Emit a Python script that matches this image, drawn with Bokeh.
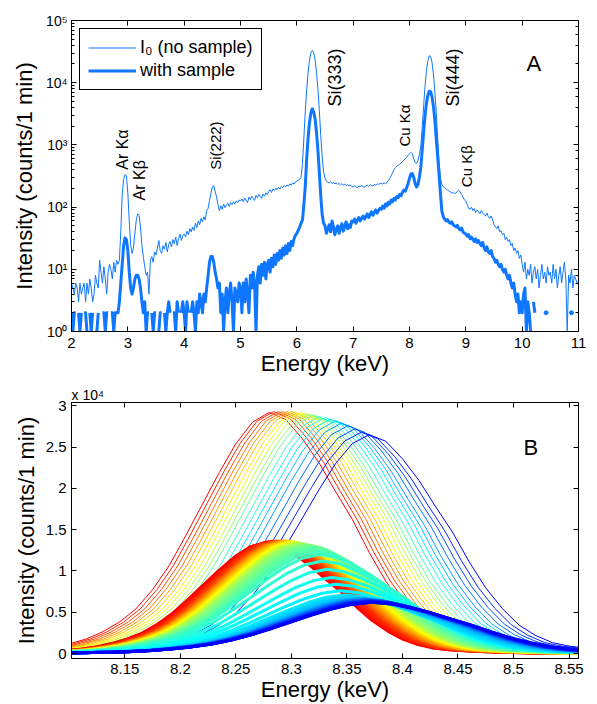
import math
import numpy as np
from bokeh.plotting import figure
from bokeh.models import (LinearAxis, LogAxis, FixedTicker, CustomJSTickFormatter,
                          Legend, LegendItem, ColumnDataSource, Range1d)
from bokeh.layouts import column
from bokeh.embed import file_html
from bokeh.resources import INLINE
from bokeh.core.properties import value

FONT = "Liberation Sans"
LINE_BLUE = "#0f77ff"

# ---------------- Panel A data (counts per 0.025 keV channel, from 2.000 keV) ----------------
energy_first = 2.0
energy_step = 0.025

i0_counts = (
    [6, 5, 4, 6, 5, 3, 6, 4, 5, 6, 3, 6, 4, 7, 5, 3, 4, 8, 6, 5]                       # 2.0
    + [14, 9, 6, 11, 7, 4, 9, 12, 10, 7, 13, 9, 14, 12, 14, 40, 160, 280, 335, 320]     # 2.5
    + [170, 60, 25, 18, 22, 38, 62, 78, 74, 48, 24, 16, 11, 8, 9, 4, 14, 16, 13, 19]    # 3.0
    + [17, 22, 29, 20, 18, 24, 21, 27, 19, 25, 28, 23, 30, 26, 33, 24, 31, 37, 29, 35]  # 3.5
    + [37, 33, 41, 36, 45, 40, 48, 42, 55, 47, 60, 52, 66, 58, 70, 62, 88, 95, 129, 165]  # 4.0
    + [210, 222, 180, 145, 110, 88, 105, 92, 112, 98, 108, 115, 102, 118, 110, 122, 112, 126, 118, 130]  # 4.5
    + [126, 135, 122, 140, 128, 118, 145, 132, 150, 138, 128, 155, 142, 160, 148, 138, 162, 150, 170, 158]  # 5.0
    + [178, 190, 172, 196, 185, 200, 190, 208, 195, 215, 205, 222, 210, 228, 218, 236, 225, 245, 235, 255]  # 5.5
    + [262, 270, 280, 300, 500, 1300, 3500, 7700, 14800, 23000, 30600, 33000, 30300, 23000, 14500, 7700, 3500, 1400, 640, 370]  # 6.0
    + [290, 262, 250, 245, 255, 240, 250, 235, 245, 232, 240, 228, 238, 225, 235, 222, 230, 220, 228, 215]  # 6.5
    + [210, 220, 212, 205, 218, 210, 222, 215, 208, 220, 226, 215, 230, 222, 218, 232, 225, 238, 230, 240]  # 7.0
    + [240, 235, 245, 238, 250, 268, 290, 320, 360, 400, 430, 460, 470, 490, 510, 540, 570, 600, 630, 680]  # 7.5
    + [720, 760, 720, 600, 520, 500, 560, 700, 950, 1850, 4150, 8700, 15200, 22500, 27000, 26500, 21100, 13700, 7200, 3350]  # 8.0
    + [1300, 535, 290, 230, 212, 205, 196, 188, 182, 175, 168, 172, 165, 170, 178, 186, 175, 160, 145, 130]  # 8.5
    + [125, 110, 95, 92, 100, 88, 95, 82, 90, 85, 78, 88, 80, 75, 72, 80, 70, 66, 72, 62]  # 9.0
    + [52, 48, 45, 50, 40, 42, 36, 38, 30, 33, 28, 30, 24, 26, 20, 22, 18, 20, 15, 17]  # 9.5
    + [12, 9, 13, 7, 10, 8, 12, 6, 9, 11, 7, 10, 5, 8, 12, 7, 9, 6, 11, 8]  # 10.0
    + [9, 6, 12, 7, 10, 5, 8, 11, 6, 9, 13, 7, 1, 8, 6, 10, 5, 8, 7, 6]  # 10.5
    + [6]  # 11.0
)

sample_counts = (
    [2, 1, 2, 2, 0, 2, 1, 2, 0, 2, 2, 1, 0, 2, 1, 2, 0, 0, 1, 2]  # 2.0
    + [0, 0, 2, 2, 1, 2, 2, 0, 2, 2, 1, 2, 2, 2, 3, 6, 12, 24, 32, 30]  # 2.5
    + [20, 9, 5, 4, 5, 7, 8, 8, 7, 5, 3, 2, 3, 1, 2, 2, 0, 2, 1, 2]  # 3.0
    + [2, 0, 1, 2, 2, 0, 2, 1, 2, 3, 2, 0, 2, 2, 1, 3, 2, 0, 2, 3]  # 3.5
    + [2, 1, 3, 2, 0, 2, 3, 2, 1, 3, 2, 4, 3, 2, 4, 3, 5, 8, 13, 16]  # 4.0
    + [16, 13, 9, 7, 5, 6, 2, 4, 1, 3, 5, 2, 4, 6, 3, 1, 5, 4, 3, 6]  # 4.5
    + [5, 2, 6, 3, 7, 4, 2, 8, 5, 9, 6, 1, 8, 11, 6, 12, 8, 13, 7, 12]  # 5.0
    + [14, 9, 15, 11, 17, 12, 18, 14, 20, 15, 22, 17, 24, 18, 26, 20, 28, 24, 31, 35]  # 5.5
    + [38, 42, 48, 55, 62, 110, 220, 600, 1300, 2300, 3300, 3800, 3350, 2600, 1550, 800, 350, 150, 75, 55]  # 6.0
    + [50, 38, 45, 52, 40, 60, 48, 36, 44, 50, 38, 46, 54, 41, 49, 58, 45, 52, 47, 60]  # 6.5
    + [58, 64, 55, 62, 68, 60, 66, 72, 64, 70, 78, 68, 76, 84, 74, 82, 90, 80, 88, 96]  # 7.0
    + [92, 104, 96, 112, 104, 120, 112, 130, 122, 138, 130, 148, 142, 160, 152, 172, 188, 180, 205, 240]  # 7.5
    + [290, 340, 345, 300, 240, 210, 230, 300, 430, 810, 1580, 2900, 4640, 6240, 7300, 7170, 5920, 4110, 2480, 1250]  # 8.0
    + [650, 330, 160, 85, 70, 64, 60, 63, 57, 55, 58, 52, 50, 48, 51, 45, 43, 46, 40, 38]  # 8.5
    + [37, 34, 36, 31, 33, 30, 28, 31, 27, 29, 26, 24, 27, 22, 20, 23, 19, 18, 20, 16]  # 9.0
    + [15, 13, 14, 12, 11, 12, 10, 9, 10, 8, 7, 8, 6, 5, 6, 4, 3, 4, 2, 3]  # 9.5
    + [2, 4, 5, 1, 3, 2, 1, 0, 3, 2, 0, 0, 0, 0, 0, 0, 0, 2, 0, 0]  # 10.0
    + [0, 0, 0, 0, 0, 0, 0, 0, 0, 0, 0, 0, 0, 0, 0, 2, 0, 0, 0, 0]  # 10.5
    + [0]  # 11.0
)

series_names = ["I\u2080 (no sample)", "with sample"]
panel_a_xticks = [2, 3, 4, 5, 6, 7, 8, 9, 10, 11]

peak_names = ["Ar K\u03b1", "Ar K\u03b2", "Si(222)", "Si(333)", "Cu K\u03b1", "Si(444)", "Cu K\u03b2"]
peak_energy = [2.912, 3.202, 4.558, 6.671, 7.915, 8.773, 9.011]
peak_counts = [398, 128, 398, 4140, 942, 4140, 209]

# ---------------- Panel B data ----------------
# common line profile (fraction of peak), every 0.015 keV from -0.300 to +0.300
b_profile = [0.004, 0.005, 0.006, 0.008, 0.010, 0.013, 0.018, 0.026, 0.040, 0.060,
             0.090, 0.130, 0.185, 0.265, 0.365, 0.490, 0.620, 0.750, 0.870, 0.960,
             1.000,
             0.970, 0.890, 0.790, 0.670, 0.555, 0.420, 0.300, 0.205, 0.130, 0.082,
             0.050, 0.034, 0.025, 0.018, 0.013, 0.010, 0.008, 0.006, 0.005, 0.004]
b_offset_step = 0.015

# I0 spectra (thin lines): peak energy (keV) and peak height (x 10^4 counts)
thin_center = [8.280, 8.284, 8.288, 8.292, 8.296, 8.300, 8.304, 8.308, 8.312, 8.316,
               8.320, 8.325, 8.330, 8.335, 8.340, 8.345, 8.351, 8.357, 8.363, 8.370]
thin_height = [2.92, 2.93, 2.93, 2.93, 2.93, 2.93, 2.92, 2.92, 2.91, 2.90,
               2.89, 2.87, 2.86, 2.84, 2.82, 2.79, 2.76, 2.72, 2.68, 2.65]

# with-sample spectra (thick lines): peak energy, peak height (x 10^4), width factor
thick_center = [8.276, 8.278, 8.280, 8.282, 8.284, 8.286, 8.287, 8.288, 8.289, 8.290,
                8.291, 8.292, 8.293, 8.294, 8.295, 8.296, 8.297, 8.298, 8.299, 8.300,
                8.301, 8.302, 8.303, 8.304, 8.305, 8.306, 8.307, 8.308, 8.310, 8.312,
                8.314, 8.316, 8.318, 8.320, 8.322, 8.325, 8.328, 8.332, 8.336, 8.340,
                8.344, 8.348, 8.352, 8.355, 8.358, 8.360, 8.362, 8.363, 8.364, 8.365,
                8.366, 8.367, 8.368, 8.368, 8.369, 8.370, 8.370, 8.371, 8.372, 8.372]
thick_height = [1.34, 1.35, 1.35, 1.36, 1.36, 1.36, 1.36, 1.36, 1.36, 1.36,
                1.36, 1.36, 1.36, 1.36, 1.36, 1.36, 1.36, 1.35, 1.35, 1.35,
                1.35, 1.35, 1.34, 1.34, 1.34, 1.33, 1.33, 1.33, 1.32, 1.32,
                1.31, 1.30, 1.28, 1.26, 1.23, 1.20, 1.12, 1.02, 0.92, 0.84,
                0.76, 0.71, 0.69, 0.68, 0.67, 0.67, 0.66, 0.66, 0.66, 0.65,
                0.65, 0.65, 0.64, 0.64, 0.64, 0.63, 0.63, 0.63, 0.62, 0.62]
thick_width = [0.92, 0.92, 0.92, 0.92, 0.93, 0.93, 0.93, 0.93, 0.94, 0.94,
               0.94, 0.94, 0.95, 0.95, 0.95, 0.95, 0.96, 0.96, 0.96, 0.96,
               0.97, 0.97, 0.97, 0.97, 0.98, 0.98, 0.98, 0.98, 0.99, 0.99,
               1.00, 1.00, 1.01, 1.02, 1.03, 1.04, 1.05, 1.06, 1.07, 1.08,
               1.09, 1.10, 1.11, 1.12, 1.13, 1.14, 1.15, 1.15, 1.16, 1.16,
               1.17, 1.17, 1.17, 1.18, 1.18, 1.18, 1.19, 1.19, 1.20, 1.20]

panel_b_xticks = [8.15, 8.2, 8.25, 8.3, 8.35, 8.4, 8.45, 8.5, 8.55]
panel_b_yticks = [0, 5000, 10000, 15000, 20000, 25000, 30000]
panel_b_scale_text = "x 10\u2074"


# ---------------- helpers ----------------
def jet_hex(t):
    r = min(max(1.5 - abs(4 * t - 3), 0), 1)
    g = min(max(1.5 - abs(4 * t - 2), 0), 1)
    b = min(max(1.5 - abs(4 * t - 1), 0), 1)
    return "#%02x%02x%02x" % (int(round(r * 255)), int(round(g * 255)), int(round(b * 255)))


def style_axis(ax, tick_size="15px"):
    ax.axis_line_color = "black"
    ax.axis_line_width = 1
    ax.major_tick_line_color = "black"
    ax.minor_tick_line_color = "black"
    ax.major_tick_in = 5
    ax.major_tick_out = 0
    ax.minor_tick_in = 3
    ax.minor_tick_out = 0
    ax.major_label_text_font = FONT
    ax.major_label_text_font_size = tick_size
    ax.major_label_text_color = "black"
    ax.axis_label_text_font = FONT
    ax.axis_label_text_font_style = "normal"
    ax.axis_label_text_font_size = "22px"
    ax.axis_label_text_color = "black"


def hide_labels(ax):
    ax.formatter = CustomJSTickFormatter(code="return '';")
    ax.major_label_text_font_size = "2px"
    ax.major_label_standoff = 0


log_formatter = CustomJSTickFormatter(code="""
const e = Math.round(Math.log10(tick));
const sup = {"-":"\u207b","0":"\u2070","1":"\u00b9","2":"\u00b2","3":"\u00b3","4":"\u2074",
             "5":"\u2075","6":"\u2076","7":"\u2077","8":"\u2078","9":"\u2079"};
return "10" + String(e).split("").map(c => sup[c]).join("");
""")

# ---------------- Panel A ----------------
n = len(i0_counts)
energy = [round(energy_first + k * energy_step, 3) for k in range(n)]
sample_y = [c if c > 0 else float("nan") for c in sample_counts]
iso_x, iso_y = [], []
for k, c in enumerate(sample_counts):
    if c > 0 and (k == 0 or sample_counts[k - 1] == 0) and (k == n - 1 or sample_counts[k + 1] == 0):
        iso_x.append(energy[k])
        iso_y.append(c)

pA = figure(width=597, height=382, x_range=Range1d(2, 11), y_range=Range1d(1, 1e5),
            y_axis_type="log", output_backend="svg", toolbar_location=None,
            min_border_left=71, min_border_right=19, min_border_top=20, min_border_bottom=51)
pA.xgrid.visible = False
pA.ygrid.visible = False
pA.outline_line_color = "black"
pA.outline_line_alpha = 1
pA.background_fill_color = "white"
pA.border_fill_color = "white"

axA_x = pA.below[0]
axA_y = pA.left[0]
axA_x.ticker = FixedTicker(ticks=panel_a_xticks)
style_axis(axA_x, "15px")
axA_x.minor_tick_line_color = None
axA_x.axis_label = "Energy (keV)"
axA_x.major_label_standoff = 6
axA_x.axis_label_standoff = 0
style_axis(axA_y, "14px")
axA_y.formatter = log_formatter
axA_y.axis_label = "Intensity (counts/1 min)"
axA_y.major_label_standoff = 4
axA_y.axis_label_standoff = 6

topA = LinearAxis(ticker=FixedTicker(ticks=panel_a_xticks))
style_axis(topA)
topA.minor_tick_line_color = None
hide_labels(topA)
pA.add_layout(topA, "above")
rightA = LogAxis()
style_axis(rightA)
hide_labels(rightA)
pA.add_layout(rightA, "right")

r_i0 = pA.line(energy, i0_counts, line_color=LINE_BLUE, line_width=1)
r_s = pA.line(energy, sample_y, line_color=LINE_BLUE, line_width=3, line_join="round")
pA.scatter(iso_x, iso_y, size=4, color=LINE_BLUE)

legend = Legend(items=[LegendItem(label=series_names[0], renderers=[r_i0]),
                       LegendItem(label=series_names[1], renderers=[r_s])],
                location="top_left", margin=8, padding=8, spacing=2, label_standoff=4,
                glyph_width=48, glyph_height=21, label_height=21,
                label_text_font=FONT, label_text_font_size="18px", label_text_color="black",
                border_line_color="black", border_line_width=1, border_line_alpha=1,
                background_fill_color="white", background_fill_alpha=1)
pA.add_layout(legend)

peak_size = ["16px", "16px", "15px", "18px", "15px", "18px", "15px"]
src_peaks = ColumnDataSource(dict(x=peak_energy, y=peak_counts, t=peak_names, s=peak_size))
pA.text(x="x", y="y", text="t", source=src_peaks, angle=math.pi / 2, text_align="left",
        text_baseline="middle", text_font=value(FONT), text_font_size="s", text_color="black")
pA.text(x=[10.206], y=[20370], text=["A"], text_align="center", text_baseline="middle",
        text_font=value(FONT), text_font_size=value("22px"), text_color="black")

# ---------------- Panel B ----------------
nprof = len(b_profile)
half = nprof // 2
b_offsets = [(k - half) * b_offset_step for k in range(nprof)]

thin_xs, thin_ys, thin_colors = [], [], []
for k, (c, h) in enumerate(zip(thin_center, thin_height)):
    thin_xs.append([c + o for o in b_offsets])
    thin_ys.append([h * 1e4 * f for f in b_profile])
    thin_colors.append(jet_hex(0.88 - 0.76 * k / (len(thin_center) - 1)))

thick_xs, thick_ys, thick_colors = [], [], []
for k, (c, h, w) in enumerate(zip(thick_center, thick_height, thick_width)):
    thick_xs.append([c + w * o for o in b_offsets])
    thick_ys.append([h * 1e4 * f for f in b_profile])
    thick_colors.append(jet_hex(0.88 - 0.76 * k / (len(thick_center) - 1)))

pB = figure(width=597, height=322, x_range=Range1d(8.102, 8.5585), y_range=Range1d(-600, 30400),
            output_backend="svg", toolbar_location=None,
            min_border_left=71, min_border_right=19, min_border_top=20, min_border_bottom=46)
pB.xgrid.visible = False
pB.ygrid.visible = False
pB.outline_line_color = "black"
pB.outline_line_alpha = 1
pB.background_fill_color = "white"
pB.border_fill_color = "white"
pB.title.text = panel_b_scale_text
pB.title.align = "left"
pB.title.text_font = FONT
pB.title.text_font_size = "14px"
pB.title.text_font_style = "normal"
pB.title.text_color = "black"
pB.title.standoff = 0
pB.title.offset = 0

axB_x = pB.below[0]
axB_y = pB.left[0]
axB_x.ticker = FixedTicker(ticks=panel_b_xticks)
axB_x.formatter = CustomJSTickFormatter(code="return String(Math.round(tick*100)/100);")
style_axis(axB_x, "15px")
axB_x.minor_tick_line_color = None
axB_x.axis_label = "Energy (keV)"
axB_x.major_label_standoff = 5
axB_x.axis_label_standoff = 0
axB_y.ticker = FixedTicker(ticks=panel_b_yticks)
axB_y.formatter = CustomJSTickFormatter(code="return String(Math.round(tick/1000)/10);")
style_axis(axB_y, "15px")
axB_y.minor_tick_line_color = None
axB_y.axis_label = "Intensity (counts/1 min)"
axB_y.major_label_standoff = 5
axB_y.axis_label_standoff = 4

topB = LinearAxis(ticker=FixedTicker(ticks=panel_b_xticks))
style_axis(topB)
topB.minor_tick_line_color = None
hide_labels(topB)
pB.add_layout(topB, "above")
rightB = LinearAxis(ticker=FixedTicker(ticks=panel_b_yticks))
style_axis(rightB)
rightB.minor_tick_line_color = None
hide_labels(rightB)
pB.add_layout(rightB, "right")

pB.multi_line(thin_xs, thin_ys, line_color=thin_colors, line_width=1)
pB.multi_line(thick_xs, thick_ys, line_color=thick_colors, line_width=3, line_join="round")

pB.text(x=[8.5155], y=[24950], text=["B"], text_align="center", text_baseline="middle",
        text_font=value(FONT), text_font_size=value("22px"), text_color="black")

layout = column(pA, pB, spacing=0)
open("out.html", "w").write(file_html(layout, INLINE))
